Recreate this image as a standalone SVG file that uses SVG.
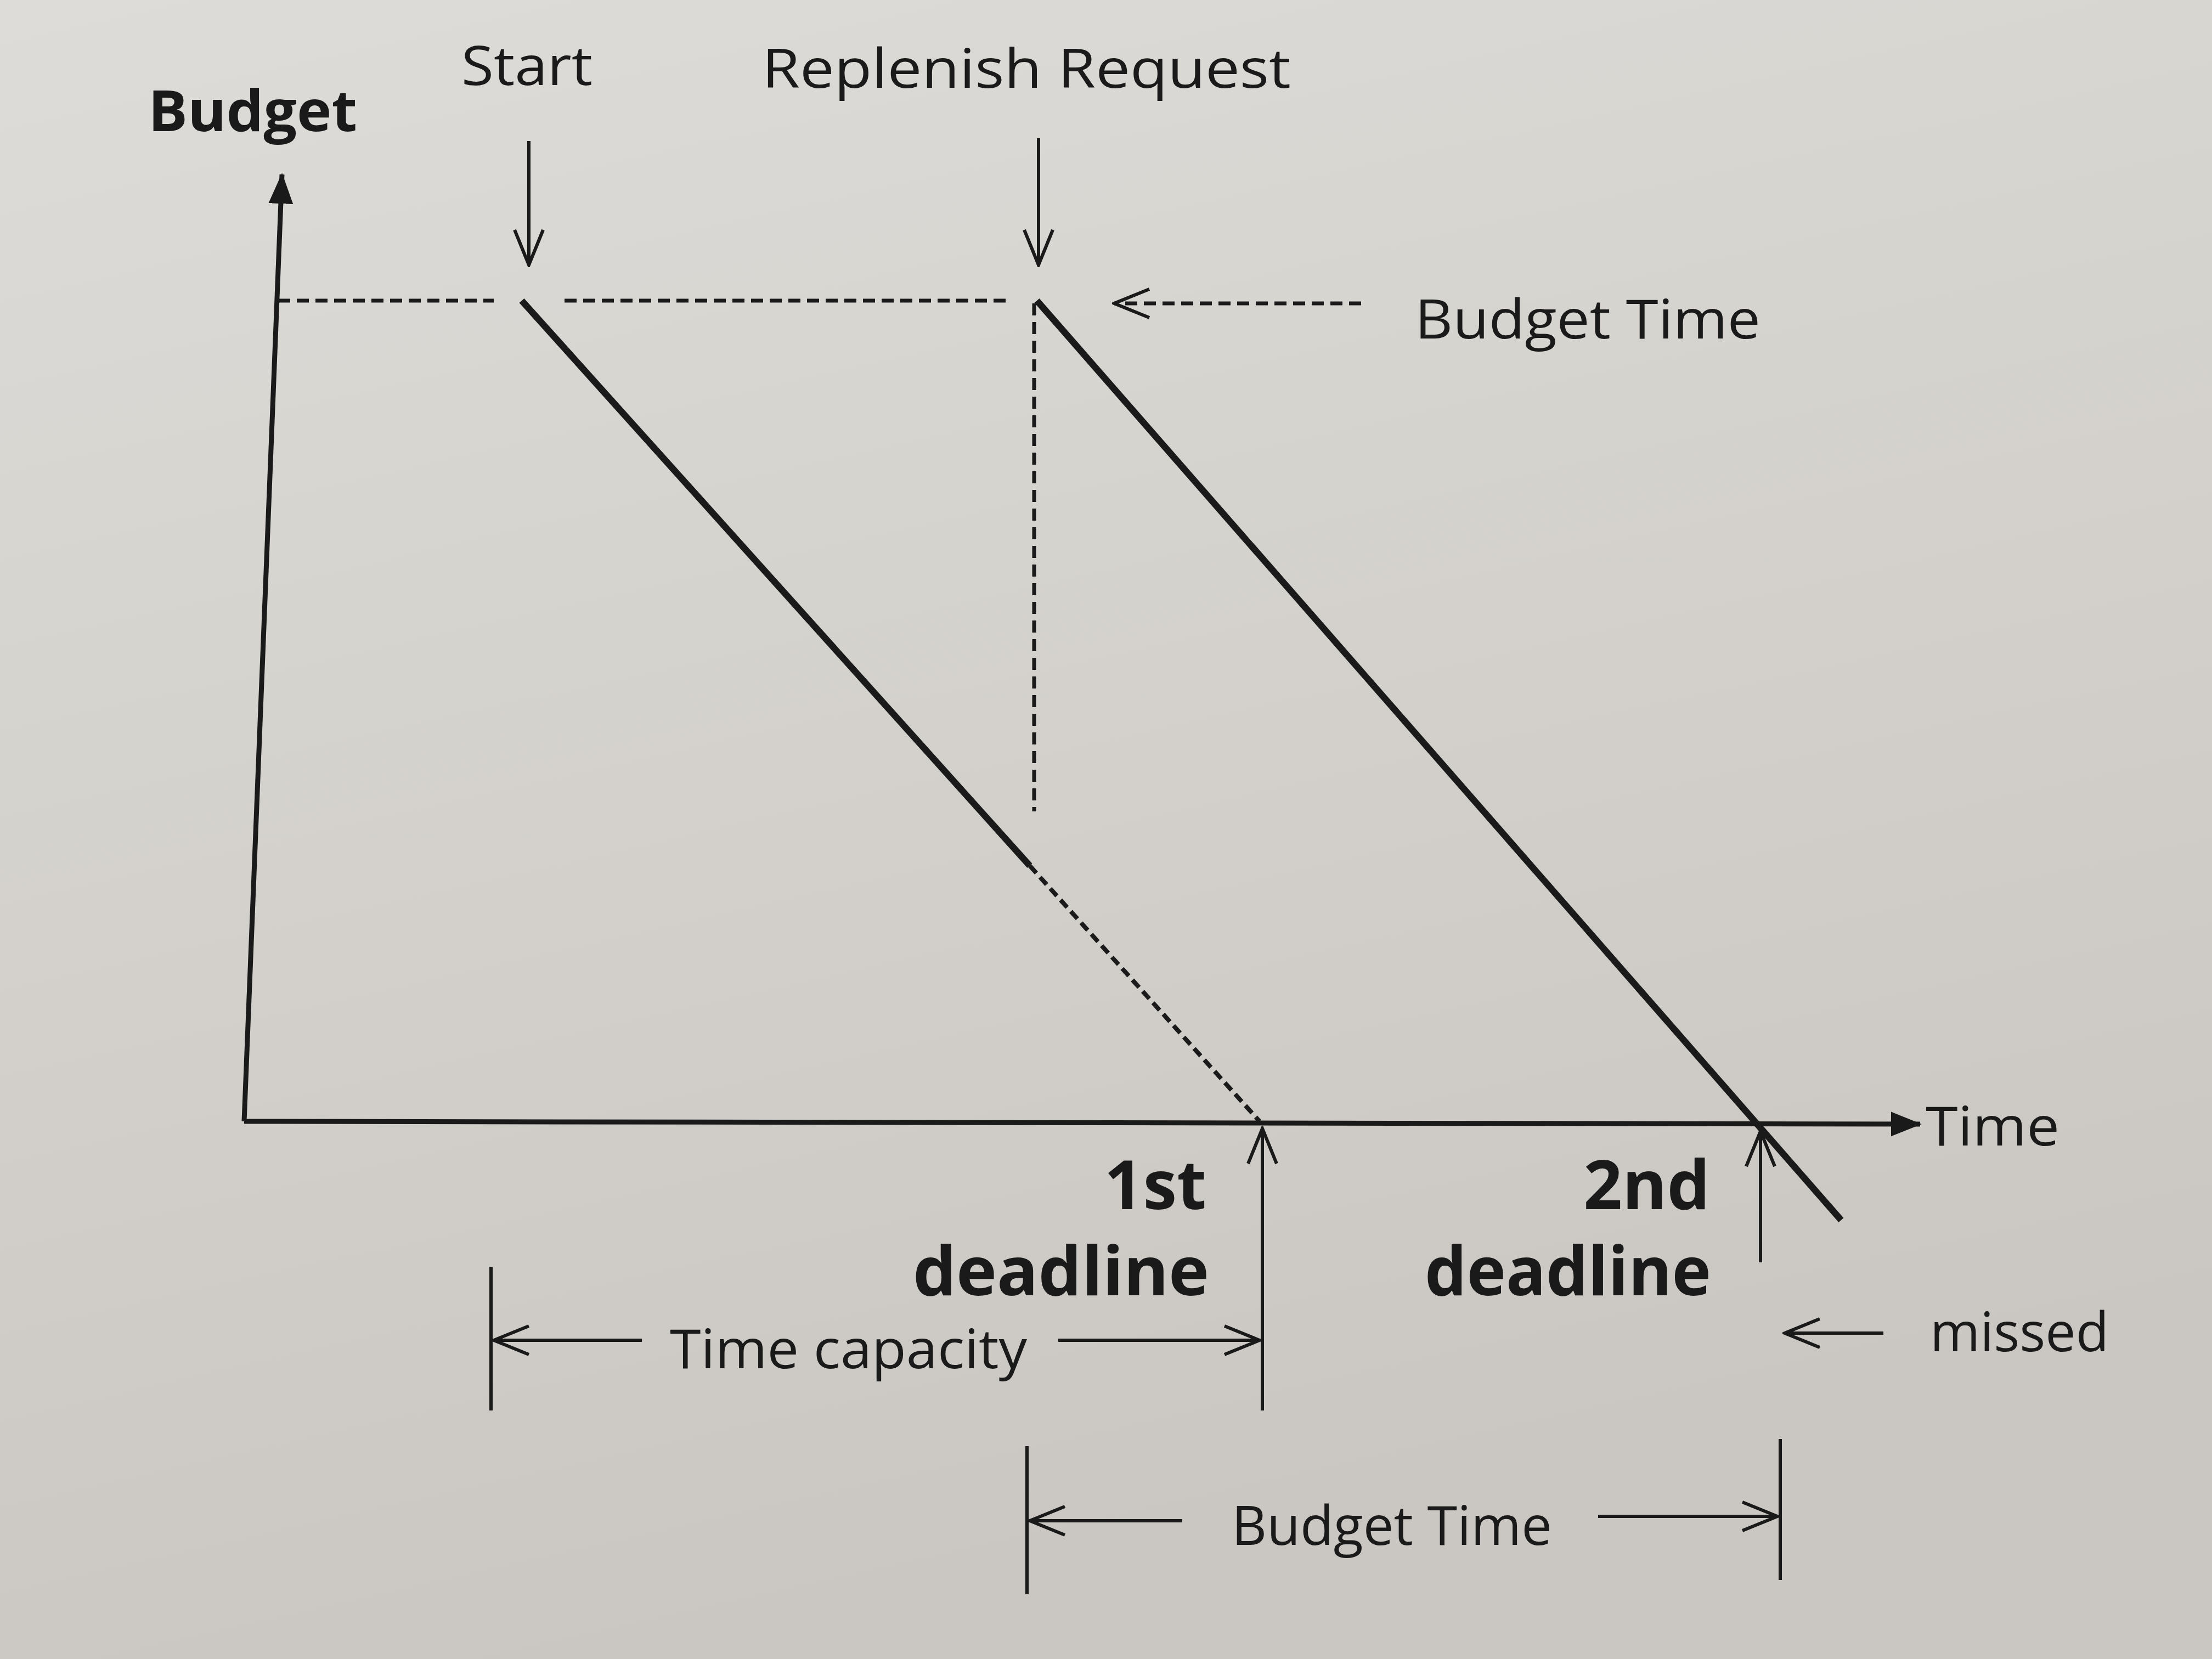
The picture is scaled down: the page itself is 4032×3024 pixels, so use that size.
<svg xmlns="http://www.w3.org/2000/svg" width="4032" height="3024" viewBox="0 0 4032 3024">
<defs>
<linearGradient id="bg" x1="0" y1="0" x2="0.3" y2="1">
<stop offset="0" stop-color="#dedcd8"/>
<stop offset="1" stop-color="#cac7c2"/>
</linearGradient>
<marker id="openBig" viewBox="0 0 20 20" refX="19" refY="10" markerWidth="80" markerHeight="80" markerUnits="userSpaceOnUse" orient="auto">
<path d="M3,3.5 L19,10 L3,16.5" fill="none" stroke="#1a1a1a" stroke-width="1.5"/>
</marker>
<marker id="solid" viewBox="0 0 20 20" refX="19" refY="10" markerWidth="56" markerHeight="56" markerUnits="userSpaceOnUse" orient="auto">
<path d="M0,2 L20,10 L0,18 Z" fill="#1a1a1a"/>
</marker>
</defs>
<style>
.t{font-family:"Open Sans","DejaVu Sans",sans-serif;fill:#1a1a1a}
.b{font-weight:bold}
.ax{stroke:#1a1a1a;stroke-width:9;fill:none}
.dl{stroke:#1a1a1a;stroke-width:12;fill:none}
.th{stroke:#1a1a1a;stroke-width:6;fill:none}
.da{stroke:#1a1a1a;stroke-width:7;stroke-dasharray:22 12;fill:none}
</style>
<rect x="0" y="0" width="4032" height="3024" fill="url(#bg)"/>

<g id="connectors">
<line id="y-axis" class="ax" x1="445" y1="2044" x2="514" y2="318" marker-end="url(#solid)"/>
<line id="x-axis" class="ax" x1="445" y1="2044" x2="3500" y2="2049" marker-end="url(#solid)"/>
<line class="da" x1="507" y1="548" x2="900" y2="548"/>
<line class="da" x1="1029" y1="548" x2="1838" y2="548"/>
<line class="da" x1="2481" y1="553" x2="2031" y2="553" marker-end="url(#openBig)"/>
<line class="da" x1="1885" y1="553" x2="1885" y2="1479"/>
<line class="th" x1="964" y1="257" x2="964" y2="483" marker-end="url(#openBig)"/>
<line class="th" x1="1893" y1="252" x2="1893" y2="483" marker-end="url(#openBig)"/>
<line class="dl" x1="951" y1="548" x2="1877" y2="1578"/>
<line class="da" x1="1877" y1="1578" x2="2296" y2="2044" style="stroke-width:8;stroke-dasharray:18 10"/>
<line class="dl" x1="1890" y1="548" x2="3356" y2="2224"/>
<line class="th" x1="2301" y1="2571" x2="2301" y2="2057" marker-end="url(#openBig)"/>
<line class="th" x1="3209" y1="2301" x2="3209" y2="2062" marker-end="url(#openBig)"/>
<line class="th" x1="895" y1="2309" x2="895" y2="2571"/>
<line class="th" x1="1170" y1="2443" x2="900" y2="2443" marker-end="url(#openBig)"/>
<line class="th" x1="1929" y1="2443" x2="2296" y2="2443" marker-end="url(#openBig)"/>
<line class="th" x1="3433" y1="2430" x2="3253" y2="2430" marker-end="url(#openBig)"/>
<line class="th" x1="1872" y1="2636" x2="1872" y2="2906"/>
<line class="th" x1="3245" y1="2623" x2="3245" y2="2880"/>
<line class="th" x1="2155" y1="2772" x2="1877" y2="2772" marker-end="url(#openBig)"/>
<line class="th" x1="2913" y1="2764" x2="3240" y2="2764" marker-end="url(#openBig)"/>
</g>

<g id="label-budget"><text class="t b" x="270" y="239" font-size="104" textLength="381" lengthAdjust="spacingAndGlyphs">Budget</text></g>
<g id="label-start"><text class="t" x="841" y="155" font-size="98" textLength="239" lengthAdjust="spacingAndGlyphs">Start</text></g>
<g id="label-replenish"><text class="t" x="1389" y="160" font-size="98" textLength="964" lengthAdjust="spacingAndGlyphs">Replenish Request</text></g>
<g id="label-budget-time-top"><text class="t" x="2579" y="617" font-size="98" textLength="630" lengthAdjust="spacingAndGlyphs">Budget Time</text></g>
<g id="label-time"><text class="t" x="3510" y="2088" font-size="98" textLength="244" lengthAdjust="spacingAndGlyphs">Time</text></g>
<g id="label-1st-deadline">
<text class="t b" x="2199" y="2204" font-size="124" text-anchor="end">1st</text>
<text class="t b" x="2204" y="2361" font-size="124" text-anchor="end" textLength="540" lengthAdjust="spacingAndGlyphs">deadline</text>
</g>
<g id="label-2nd-deadline">
<text class="t b" x="3117" y="2204" font-size="124" text-anchor="end">2nd</text>
<text class="t b" x="3119" y="2361" font-size="124" text-anchor="end" textLength="522" lengthAdjust="spacingAndGlyphs">deadline</text>
</g>
<g id="label-time-capacity"><text class="t" x="1221" y="2494" font-size="98" textLength="651" lengthAdjust="spacingAndGlyphs">Time capacity</text></g>
<g id="label-missed"><text class="t" x="3518" y="2463" font-size="98" textLength="326" lengthAdjust="spacingAndGlyphs">missed</text></g>
<g id="label-budget-time-bottom"><text class="t" x="2245" y="2816" font-size="98" textLength="584" lengthAdjust="spacingAndGlyphs">Budget Time</text></g>
</svg>
